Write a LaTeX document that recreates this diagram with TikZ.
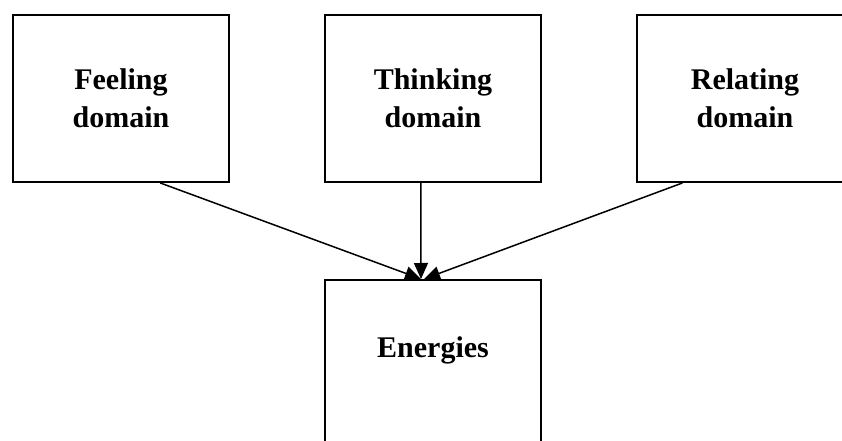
\documentclass[tikz,border=0pt]{standalone}
\usepackage{fontspec}
\setmainfont{Liberation Serif}
\usetikzlibrary{arrows.meta,calc}
\begin{document}
\begin{tikzpicture}[x=1pt,y=1pt,
  domainbox/.style={draw=black, line width=1.9pt, minimum width=216pt, minimum height=167pt,
    inner sep=0pt, align=center, font=\fontsize{30}{38}\selectfont\bfseries},
  conn/.style={draw=black, line width=1.5pt, -{Triangle[length=16pt,width=14pt]}}]
\useasboundingbox (0,0) rectangle (842,441);
\clip (0,0) rectangle (842,441);
\node[domainbox] (feel) at (121,342.5) {Feeling\\domain};
\node[domainbox] (think) at (433,342.5) {Thinking\\domain};
\node[domainbox] (rel) at (745,342.5) {Relating\\domain};
\node[draw=black, line width=1.9pt, minimum width=216pt, inner xsep=0pt, inner ysep=0pt,
  anchor=north, text height=78pt, text depth=140pt,
  font=\fontsize{30}{38}\selectfont\bfseries] (en) at (433,162) {Energies};
\draw[conn] ($(feel.south west)!0.68!(feel.south east)$) -- ($(en.north)+(-12,0)$);
\draw[conn] ($(think.south west)!0.444!(think.south east)$) -- ($(en.north)+(-12,0)$);
\draw[conn] ($(rel.south west)!0.213!(rel.south east)$) -- ($(en.north)+(-9,0)$);
\end{tikzpicture}
\end{document}
